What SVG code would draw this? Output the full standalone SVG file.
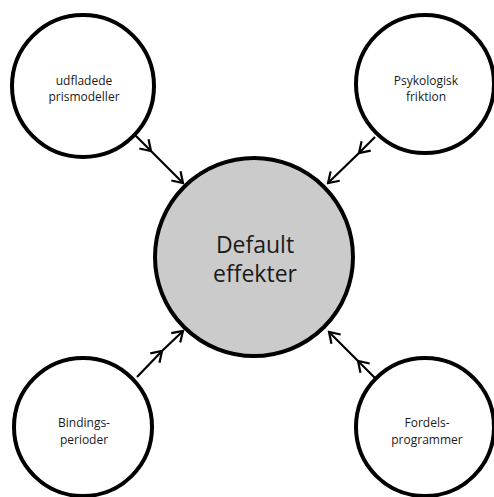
<svg xmlns="http://www.w3.org/2000/svg" width="494" height="497" viewBox="0 0 494 497">
<defs>
<style>
.node{fill:#ffffff;stroke:#000;stroke-width:4}
.center{fill:#cbcbcb;stroke:#000;stroke-width:4}
.lbl{font-family:"Open Sans","Liberation Sans",sans-serif;font-size:12px;fill:#1a1a1a;text-anchor:middle}
.big{font-family:"Open Sans","Liberation Sans",sans-serif;font-size:23px;fill:#1a1a1a;text-anchor:middle}
.conn{fill:none;stroke:#000;stroke-width:2.2;marker-mid:url(#arr);marker-end:url(#arr)}
</style>
<marker id="arr" markerUnits="userSpaceOnUse" markerWidth="14" markerHeight="16" viewBox="0 0 14 16" refX="12" refY="8" orient="auto">
<path d="M2,1.5 L12,8 L2,14.5" fill="none" stroke="#000" stroke-width="2.2"/>
</marker>
</defs>
<g id="connectors">
<path class="conn" d="M135,135 L151,151 L183,183"/>
<path class="conn" d="M375,137 L359,153 L328,183"/>
<path class="conn" d="M137,377 L162,351 L183,331"/>
<path class="conn" d="M375,378 L358,361 L329,332"/>
</g>
<g id="default-effekter">
<circle class="center" cx="254" cy="257" r="99"/>
<text class="big" x="255" y="253">Default</text>
<text class="big" x="255" y="282">effekter</text>
</g>
<g id="udfladede-prismodeller">
<circle class="node" cx="83" cy="86" r="71"/>
<text class="lbl" x="84" y="85">udfladede</text>
<text class="lbl" x="84" y="101">prismodeller</text>
</g>
<g id="psykologisk-friktion">
<circle class="node" cx="425" cy="84" r="69"/>
<text class="lbl" x="426" y="85">Psykologisk</text>
<text class="lbl" x="426" y="101">friktion</text>
</g>
<g id="bindingsperioder">
<circle class="node" cx="83" cy="427" r="69"/>
<text class="lbl" x="84" y="427">Bindings-</text>
<text class="lbl" x="84" y="444">perioder</text>
</g>
<g id="fordelsprogrammer">
<circle class="node" cx="425" cy="427" r="69"/>
<text class="lbl" x="427" y="427">Fordels-</text>
<text class="lbl" x="427" y="444">programmer</text>
</g>
</svg>
